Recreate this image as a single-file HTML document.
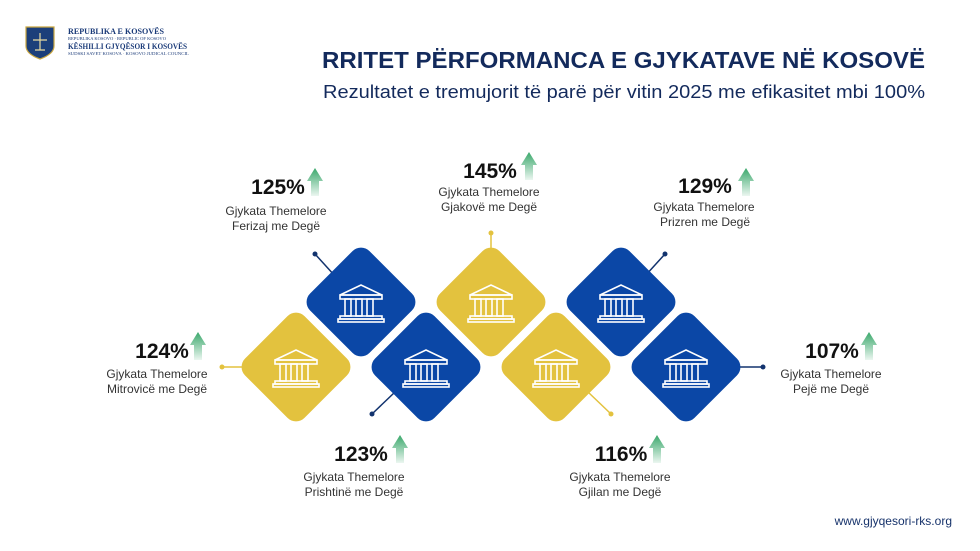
<!DOCTYPE html>
<html><head><meta charset="utf-8"><style>
html,body{margin:0;padding:0;background:#fff;}
svg{display:block;font-family:"Liberation Sans",sans-serif;}
</style></head><body>
<svg width="980" height="551" viewBox="0 0 980 551" xmlns="http://www.w3.org/2000/svg">
<defs>
<linearGradient id="ag" x1="0" y1="0" x2="0" y2="1"><stop offset="0" stop-color="#3aa86b"/><stop offset="1" stop-color="#3aa86b" stop-opacity="0.1"/></linearGradient>
<g id="bld" fill="none" stroke="#fff" stroke-width="1.6">
<path d="M-21,-8 L0,-18 L21,-8 Z"/>
<rect x="-21" y="-8" width="42" height="4"/>
<rect x="-16" y="-4" width="6" height="17"/><rect x="-5" y="-4" width="6" height="17"/><rect x="6" y="-4" width="6" height="17"/>
<rect x="-21" y="13" width="42" height="3"/><rect x="-23" y="16" width="46" height="3"/>
</g>
<rect id="dia" x="-42" y="-42" width="84" height="84" rx="12" transform="rotate(45)"/>
</defs>
<!-- logo -->
<path d="M26,27 L54,27 L54,46 Q54,54 40,59 Q26,54 26,46 Z" fill="#1c3f7a" stroke="#c9a640" stroke-width="1.2"/>
<path d="M33,40 L47,40 M40,33 L40,50 M35,50 L45,50" stroke="#e8d9a0" stroke-width="1.2"/>
<g fill="#1a3a78" font-family="'Liberation Serif',serif">
<text x="68" y="34" font-size="8.5" font-weight="bold" textLength="96" lengthAdjust="spacingAndGlyphs">REPUBLIKA E KOSOVËS</text>
<text x="68" y="40" font-size="4.5" textLength="98" lengthAdjust="spacingAndGlyphs">REPUBLIKA KOSOVO · REPUBLIC OF KOSOVO</text>
<text x="68" y="49" font-size="8.5" font-weight="bold" textLength="119" lengthAdjust="spacingAndGlyphs">KËSHILLI GJYQËSOR I KOSOVËS</text>
<text x="68" y="55" font-size="4.5" textLength="121" lengthAdjust="spacingAndGlyphs">SUDSKI SAVET KOSOVA · KOSOVO JUDICAL COUNCIL</text>
</g>
<text x="322" y="68" font-size="23" font-weight="bold" fill="#132a5c" textLength="603" lengthAdjust="spacingAndGlyphs">RRITET PËRFORMANCA E GJYKATAVE NË KOSOVË</text>
<text x="323" y="98" font-size="18" fill="#132a5c" textLength="602" lengthAdjust="spacingAndGlyphs">Rezultatet e tremujorit të parë për vitin 2025 me efikasitet mbi 100%</text>
<!-- connectors -->
<g stroke-width="1.5">
<line x1="315" y1="254" x2="335" y2="276" stroke="#12336e"/><circle cx="315" cy="254" r="2.5" fill="#12336e"/>
<line x1="222" y1="367" x2="245" y2="367" stroke="#e3c23e"/><circle cx="222" cy="367" r="2.5" fill="#e3c23e"/>
<line x1="372" y1="414" x2="395" y2="392" stroke="#12336e"/><circle cx="372" cy="414" r="2.5" fill="#12336e"/>
<line x1="491" y1="233" x2="491" y2="252" stroke="#e3c23e"/><circle cx="491" cy="233" r="2.5" fill="#e3c23e"/>
<line x1="611" y1="414" x2="588" y2="392" stroke="#e3c23e"/><circle cx="611" cy="414" r="2.5" fill="#e3c23e"/>
<line x1="665" y1="254" x2="645" y2="276" stroke="#12336e"/><circle cx="665" cy="254" r="2.5" fill="#12336e"/>
<line x1="737" y1="367" x2="763" y2="367" stroke="#12336e"/><circle cx="763" cy="367" r="2.5" fill="#12336e"/>
</g>
<!-- diamonds -->
<use href="#dia" x="361" y="302" fill="#0b47a6"/>
<use href="#dia" x="491" y="302" fill="#e3c23e"/>
<use href="#dia" x="621" y="302" fill="#0b47a6"/>
<use href="#dia" x="296" y="367" fill="#e3c23e"/>
<use href="#dia" x="426" y="367" fill="#0b47a6"/>
<use href="#dia" x="556" y="367" fill="#e3c23e"/>
<use href="#dia" x="686" y="367" fill="#0b47a6"/>
<use href="#bld" x="361" y="303"/><use href="#bld" x="491" y="303"/><use href="#bld" x="621" y="303"/>
<use href="#bld" x="296" y="368"/><use href="#bld" x="426" y="368"/><use href="#bld" x="556" y="368"/><use href="#bld" x="686" y="368"/>
<!-- labels -->
<g font-size="12" fill="#333" text-anchor="middle">
<g font-size="21" font-weight="bold" fill="#111">
<text x="278" y="194">125%</text><text x="490" y="178">145%</text><text x="705" y="193">129%</text>
<text x="162" y="358">124%</text><text x="832" y="358">107%</text>
<text x="361" y="461">123%</text><text x="621" y="461">116%</text>
</g>
<text x="276" y="215">Gjykata Themelore</text><text x="276" y="230">Ferizaj me Degë</text>
<text x="489" y="196">Gjykata Themelore</text><text x="489" y="211">Gjakovë me Degë</text>
<text x="704" y="211">Gjykata Themelore</text><text x="705" y="226">Prizren me Degë</text>
<text x="157" y="378">Gjykata Themelore</text><text x="157" y="393">Mitrovicë me Degë</text>
<text x="831" y="378">Gjykata Themelore</text><text x="831" y="393">Pejë me Degë</text>
<text x="354" y="481">Gjykata Themelore</text><text x="354" y="496">Prishtinë me Degë</text>
<text x="620" y="481">Gjykata Themelore</text><text x="620" y="496">Gjilan me Degë</text>
</g>
<!-- arrows -->
<g fill="url(#ag)">
<path d="M311,196 L319,196 L319,181 L323,181 L315,168 L307,181 L311,181 Z"/>
<path d="M525,180 L533,180 L533,165 L537,165 L529,152 L521,165 L525,165 Z"/>
<path d="M742,196 L750,196 L750,181 L754,181 L746,168 L738,181 L742,181 Z"/>
<path d="M194,360 L202,360 L202,345 L206,345 L198,332 L190,345 L194,345 Z"/>
<path d="M865,360 L873,360 L873,345 L877,345 L869,332 L861,345 L865,345 Z"/>
<path d="M396,463 L404,463 L404,448 L408,448 L400,435 L392,448 L396,448 Z"/>
<path d="M653,463 L661,463 L661,448 L665,448 L657,435 L649,448 L653,448 Z"/>
</g>
<text x="952" y="525" text-anchor="end" font-size="12" fill="#17336b">www.gjyqesori-rks.org</text>
</svg>
</body></html>
